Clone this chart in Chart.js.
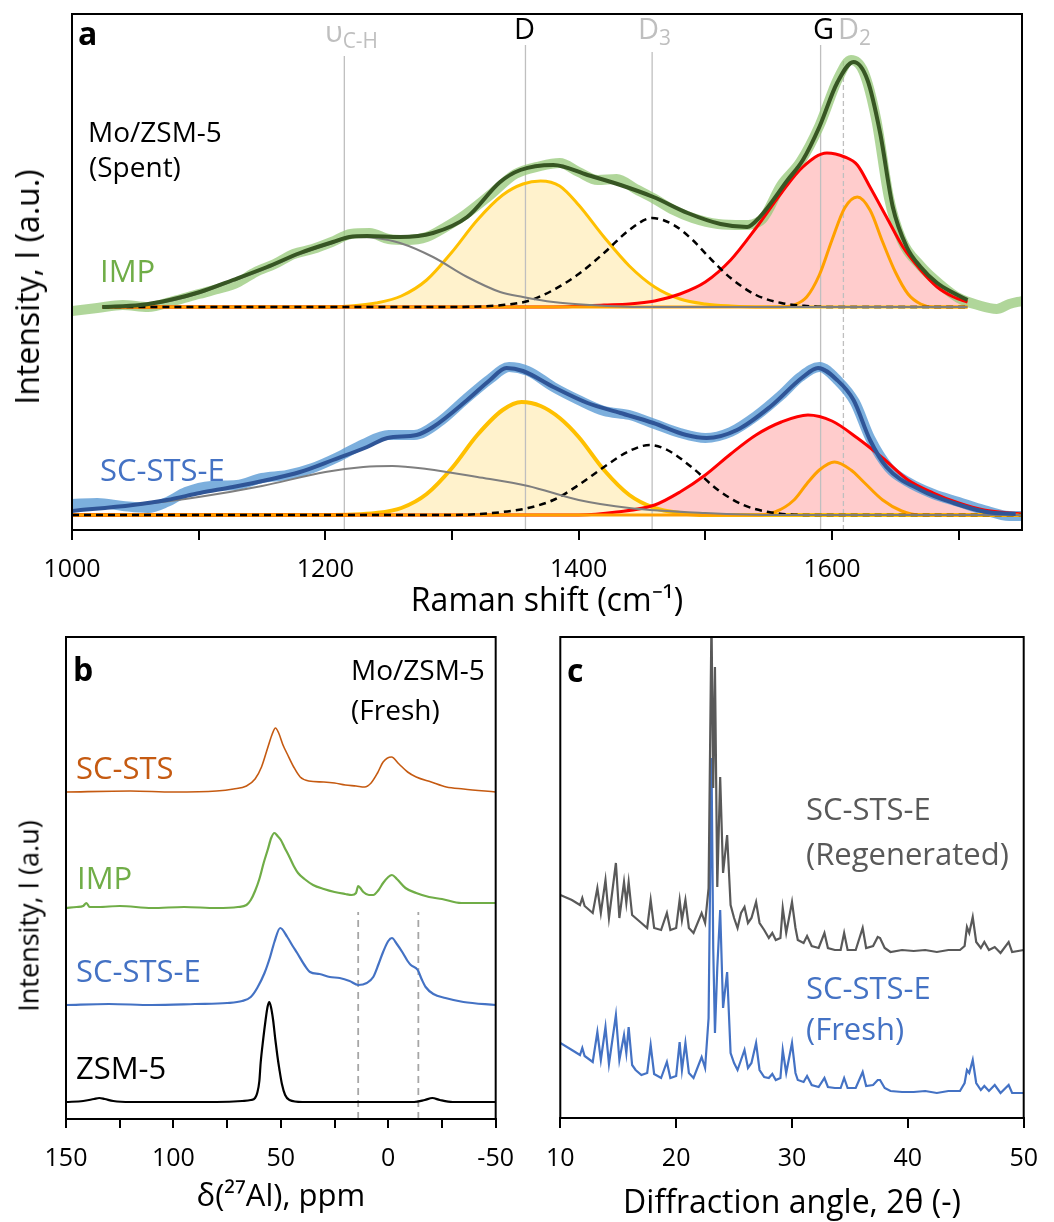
<!DOCTYPE html>
<html><head><meta charset="utf-8">
<script src="https://cdn.jsdelivr.net/npm/chart.js@4.4.1/dist/chart.umd.min.js"></script>
<style>
html,body{margin:0;padding:0;background:#fff;}
#wrap{position:relative;width:1054px;height:1222px;overflow:hidden;font-family:"Open Sans",sans-serif;background:#fff;}
canvas{position:absolute;}
.lab{position:absolute;white-space:nowrap;line-height:1;font-family:"Open Sans",sans-serif;}
.sub{font-size:72%;position:relative;top:0.28em;}
.ytit{position:absolute;white-space:nowrap;line-height:1;transform:translate(-50%,-50%) rotate(-90deg);color:#000;}
</style></head><body>
<div id="wrap">
<canvas id="ca" width="1054" height="620" style="left:0;top:0"></canvas>
<canvas id="cb" width="530" height="607" style="left:0;top:615px"></canvas>
<canvas id="cc" width="524" height="607" style="left:530px;top:615px"></canvas>

<div class="ytit" style="left:27px;top:287px;font-size:32px">Intensity, I (a.u.)</div>
<div class="ytit" style="left:28px;top:916px;font-size:27px">Intensity, I (a.u)</div>

<div class="lab" style="left:78px;top:17px;font-size:32px;font-weight:bold">a</div>
<div class="lab" style="left:88px;top:117px;font-size:28px">Mo/ZSM-5</div>
<div class="lab" style="left:89px;top:152px;font-size:28px">(Spent)</div>
<div class="lab" style="left:100px;top:255px;font-size:31px;color:#70ad47">IMP</div>
<div class="lab" style="left:100px;top:454px;font-size:31px;color:#4472c4">SC-STS-E</div>
<div class="lab" style="left:325px;top:16px;font-size:29px;color:#bfbfbf">υ<span class="sub">C-H</span></div>
<div class="lab" style="left:514px;top:13px;font-size:29px;color:#000">D</div>
<div class="lab" style="left:638px;top:13px;font-size:29px;color:#bfbfbf">D<span class="sub">3</span></div>
<div class="lab" style="left:813px;top:13px;font-size:29px;color:#000">G</div>
<div class="lab" style="left:838px;top:13px;font-size:29px;color:#bfbfbf">D<span class="sub">2</span></div>

<div class="lab" style="left:73px;top:653px;font-size:32px;font-weight:bold">b</div>
<div class="lab" style="left:351px;top:655px;font-size:28px">Mo/ZSM-5</div>
<div class="lab" style="left:351px;top:695px;font-size:28px">(Fresh)</div>
<div class="lab" style="left:76px;top:752px;font-size:31px;color:#c55a11">SC-STS</div>
<div class="lab" style="left:77px;top:862px;font-size:31px;color:#70ad47">IMP</div>
<div class="lab" style="left:76px;top:955px;font-size:31px;color:#4472c4">SC-STS-E</div>
<div class="lab" style="left:76px;top:1052px;font-size:31px;color:#000">ZSM-5</div>

<div class="lab" style="left:567px;top:654px;font-size:32px;font-weight:bold">c</div>
<div class="lab" style="left:806px;top:793px;font-size:31px;color:#595959">SC-STS-E</div>
<div class="lab" style="left:806px;top:838px;font-size:31px;color:#595959">(Regenerated)</div>
<div class="lab" style="left:806px;top:972px;font-size:31px;color:#4472c4">SC-STS-E</div>
<div class="lab" style="left:806px;top:1013px;font-size:31px;color:#4472c4">(Fresh)</div>
</div>
<script>
// ---------- Panel a: Raman (cm-1 vs intensity, a.u.) ----------
const impTotX = [1024,1054,1077,1101,1127,1154,1180,1206,1219,1233,1259,1285,1312,1338,1354,1380,1407,1433,1459,1486,1512,1533,1543,1565,1577,1590,1604,1617,1628,1638,1648,1659,1670,1683,1696,1707];
const impTotY = [223,225,230,238,250,263,277,288,293,294,293,297,313,348,360,365,355,345,333,317,306,303,313,350,370,403,447,468,450,397,323,283,263,247,237,230];
const impRawX = [1000,1020,1040,1060,1080,1100,1115,1130,1145,1160,1175,1190,1205,1220,1235,1250,1265,1280,1295,1310,1330,1350,1370,1385,1400,1415,1430,1445,1460,1475,1490,1510,1530,1545,1560,1575,1590,1605,1615,1625,1635,1645,1655,1670,1685,1700,1715,1730,1740,1750];
const impRawY = [219,222,225,223,229,236,241,247,258,266,276,281,288,296,297,291,290,293,303,315,335,356,364,367,358,350,351,341,331,320,312,306,305,311,345,368,404,452,470,458,410,332,290,264,246,232,225,221,226,229];
const impUX = [1024,1054,1077,1101,1127,1154,1180,1206,1223,1240,1259,1285,1312,1338,1356,1380,1410,1450,1707];
const impUY = [223,225,229,237,249,262,276,287,293,292,287,273,253,238,233,228,225,223,223];
const impDX = [1024,1200,1220,1240,1260,1280,1300,1320,1340,1356,1370,1385,1400,1420,1440,1460,1480,1500,1520,1545,1707];
const impDY = [223,223,224,227,234,250,278,310,335,346,349,344,325,293,264,243,231,226,224,223,223];
const impD3X = [1024,1300,1340,1360,1380,1400,1420,1440,1458,1475,1490,1505,1520,1540,1560,1580,1600,1707];
const impD3Y = [223,223,225,229,240,256,277,300,312,305,290,270,252,235,227,224,223,223];
const impGX = [1024,1380,1420,1440,1460,1480,1500,1520,1540,1560,1577,1596,1610,1620,1630,1643,1656,1670,1683,1696,1707];
const impGY = [223,223,225,226,229,236,248,270,302,337,363,377,373,365,343,313,283,260,243,233,228];
const impD2X = [1024,1560,1570,1580,1590,1600,1610,1620,1630,1640,1650,1660,1670,1680,1707];
const impD2Y = [223,223,225,233,255,290,322,333,320,288,258,236,226,223,223];
const impBase = 223;

const scTotX = [1000,1048,1075,1101,1127,1154,1180,1206,1233,1249,1272,1285,1312,1330,1343,1356,1380,1407,1433,1459,1485,1501,1525,1551,1577,1589,1604,1617,1630,1643,1670,1696,1722,1745];
const scTotY = [19,25,30,37,43,50,58,70,83,92,95,103,130,150,162,159,143,127,117,107,95,92,100,123,153,162,150,130,90,63,40,27,18,16];
const scRawX = [1000,1020,1040,1060,1075,1090,1110,1130,1150,1170,1190,1210,1230,1250,1270,1290,1310,1330,1345,1360,1380,1400,1420,1440,1460,1480,1500,1520,1540,1560,1575,1590,1605,1618,1630,1645,1660,1680,1700,1720,1740,1750];
const scRawY = [26,27,24,22,28,38,44,45,52,55,62,73,86,95,95,108,130,151,163,159,143,130,119,115,106,97,92,98,114,135,153,163,149,128,92,62,48,36,28,20,14,14];
const scUX = [1000,1050,1100,1150,1200,1230,1253,1280,1320,1360,1400,1440,1500,1560,1750];
const scUY = [19,25,33,44,58,63,64,61,53,44,30,22,17,15,15];
const scDX = [1000,1200,1240,1260,1280,1300,1320,1340,1355,1370,1385,1400,1420,1440,1460,1480,1500,1750];
const scDY = [15,15,17,22,36,62,95,120,128,124,112,93,60,35,22,17,15,15];
const scD3X = [1000,1300,1340,1360,1380,1400,1420,1440,1456,1470,1490,1510,1530,1550,1580,1750];
const scD3Y = [15,15,18,22,30,45,63,79,85,80,62,40,25,18,15,15];
const scGX = [1000,1400,1430,1460,1480,1500,1520,1540,1560,1581,1600,1620,1640,1660,1680,1700,1720,1750];
const scGY = [15,15,18,25,38,55,76,95,108,115,109,92,72,50,37,27,20,16];
const scD2X = [1000,1540,1555,1570,1580,1590,1602,1615,1625,1640,1655,1670,1750];
const scD2Y = [15,15,18,30,46,60,68,60,48,30,19,15,15];
const scBase = 15;

const bandPos = [1215,1358,1458,1591,1609];   // υC-H, D, D3, G, D2
const bandTop = [474,485,478,485,470];

// ---------- Panel b: 27Al NMR ----------
const stsX = [150,120,100,80,72,66,62,59,56,54,52.5,51,49,47,44,41,37,30,25,20,15,11,8,5,2.4,-1.5,-5,-9,-13,-20,-27,-35,-50];
const stsY = [327,328,327,328,330,333,340,352,372,385,391,386,374,365,352,342,338,337,336,334,333,332,336,346,357,362,355,347,342,337,332,330,327];
const nmrImpX = [150,145,142,140.5,139,135,125,110,95,80,70,66,64,62,60,58,56,54.5,53,51.5,50,48.4,46,44,42,39,35,30,25,20,17,15,14,13,11.6,9,7,4.5,2.4,0,-1.7,-4,-8,-13,-19,-25,-34,-42,-50];
const nmrImpY = [211,212,213,216,212,212,213,211,212,211,212,214,219,228,240,256,270,281,286,283,279,272,262,253,246,240,234,230,227,225,224,226,233,231,227,224,224,229,236,242,244,240,231,226,222,220,216,216,216];
const stseX = [150,130,110,90,75,68,64,61,57.6,55,53,50.3,47,44.5,42.4,39,36.4,32,27.2,22.6,18,14,10,7,4.5,2.4,0,-1.7,-4,-6.8,-9,-10.5,-13.7,-15.5,-17.4,-21,-26.6,-35,-50];
const stseY = [114,115,114,115,116,118,122,131,146,162,177,191,182,173,166,154,147,145,142,141,138,134,136,142,155,167,178,181,175,166,158,154,149,140,132,125,121,117,114];
const zsmX = [150,142,137,134.5,132,128,120,100,80,68,64,62,61,60,59.4,58.2,57.1,56.2,55.4,54.6,53.6,52.6,51.6,50.7,49.5,48,46,40,20,0,-12,-17,-20.5,-24,-30,-40,-50];
const zsmY = [17,18,20,21,20,18,17,17,17,18,19,21,26,38,56,80,99,112,117,112,99,80,63,50,35,24,19,17,17,17,17,19,21,19,17,17,17];
const nmrMarks = [14,-14];
const nmrMarkTop = 207;

// ---------- Panel c: XRD ----------
const xrdAngle = [10.0,11.0,11.7,11.9,12.1,12.8,13.2,13.5,13.9,14.2,14.8,15.1,15.5,15.7,15.9,16.2,16.5,17.0,17.5,17.8,18.1,18.7,19.2,19.5,20.0,20.3,20.5,20.8,21.1,21.5,22.2,22.5,22.8,23.05,23.2,23.35,23.55,23.8,24.05,24.4,24.7,25.0,25.3,25.6,25.9,26.2,26.5,26.9,27.2,27.6,28.0,28.3,28.6,29.0,29.2,29.5,30.0,30.3,30.5,31.0,31.3,31.7,32.3,32.8,33.1,33.7,34.2,34.5,34.8,35.5,36.1,36.4,37.0,37.4,37.6,38.0,38.5,39.5,40.5,41.5,42.5,43.5,44.5,44.9,45.1,45.3,45.6,45.9,46.3,46.6,47.0,47.5,48.0,48.7,49.0,50.0];
const xrdRegen = [223,218,213,220,212,205,230,205,238,200,255,200,236,215,236,203,200,195,190,218,190,188,205,188,190,218,198,218,190,185,205,195,230,500,330,451,231,341,245,283,213,200,190,205,211,195,200,216,195,188,180,185,178,180,210,185,216,190,178,175,182,172,170,185,170,168,168,185,168,168,190,170,172,181,180,170,166,168,167,168,166,168,168,172,191,185,201,176,170,176,168,171,165,176,166,168];
const xrdFresh = [75,68,63,70,62,56,86,58,91,54,103,58,83,65,91,53,48,43,45,73,44,40,56,40,42,76,48,75,45,40,61,50,100,360,170,85,150,208,110,146,65,55,48,58,68,50,55,75,48,41,40,44,38,40,68,45,75,45,38,36,42,33,31,40,31,30,30,40,30,30,46,32,33,38,38,30,27,26,26,27,25,27,27,35,48,45,58,35,28,32,27,33,25,33,25,25];

// ---------- helpers ----------
const FONT = 'Open Sans';
const pts = (xs, ys) => xs.map((x, i) => ({x: x, y: ys[i]}));
function line(xs, ys, color, width, extra) {
  return Object.assign({data: pts(xs, ys), borderColor: color, borderWidth: width, pointRadius: 0,
    fill: false, cubicInterpolationMode: 'monotone', order: 1}, extra || {});
}
function fillArea(xs, ys, color, base) {
  return {data: pts(xs, ys), borderColor: 'rgba(0,0,0,0)', borderWidth: 0, pointRadius: 0,
    backgroundColor: color, fill: {value: base}, cubicInterpolationMode: 'monotone', order: 5};
}
const framePlugin = {id: 'frame', afterDatasetsDraw(chart) {
  const a = chart.chartArea, ctx = chart.ctx;
  ctx.save(); ctx.strokeStyle = '#000'; ctx.lineWidth = 2;
  ctx.strokeRect(a.left, a.top, a.right - a.left, a.bottom - a.top); ctx.restore();
}};
function xAxis(cfg) {
  return {type: 'linear', min: cfg.min, max: cfg.max, reverse: !!cfg.reverse,
    ticks: {stepSize: cfg.step, includeBounds: false, autoSkip: false, maxRotation: 0, padding: cfg.pad,
      color: '#000', font: {family: FONT, size: 25}, callback: cfg.cb},
    grid: {display: true, drawOnChartArea: false, drawTicks: true, tickLength: cfg.tl, color: '#000', lineWidth: 2},
    border: {display: true, color: '#000', width: 2},
    title: {display: true, text: cfg.title, color: '#000', font: {family: FONT, size: cfg.tsize, lineHeight: 1},
      padding: {top: 0, bottom: cfg.tpad}},
    afterFit: (s) => { s.height = cfg.h; }};
}
function baseOpts(pad, xs, ymax) {
  return {responsive: false, animation: false, events: [],
    layout: {padding: pad},
    plugins: {legend: {display: false}, tooltip: {enabled: false}},
    scales: {x: xs, y: {display: false, min: 0, max: ymax}}};
}

// ---------- chart a ----------
const dsA = [
  line(impTotX, impTotY, '#375623', 4, {order: 0}),
  line(scTotX, scTotY, '#2f5597', 4, {order: 0}),
  line(impUX, impUY, '#7f7f7f', 2),
  line(impD3X, impD3Y, '#000000', 2.5, {borderDash: [7, 5]}),
  line(impD2X, impD2Y, '#ffa000', 3),
  line(impGX, impGY, '#ff0000', 3),
  line(impDX, impDY, '#ffc000', 3),
  line(scUX, scUY, '#7f7f7f', 2),
  line(scD3X, scD3Y, '#000000', 2.5, {borderDash: [7, 5]}),
  line(scD2X, scD2Y, '#ffa000', 3),
  line(scGX, scGY, '#ff0000', 3),
  line(scDX, scDY, '#ffc000', 4),
  line(impRawX, impRawY, 'rgba(150,200,120,0.75)', 10, {order: 2}),
  line(scRawX, scRawY, 'rgba(91,155,213,0.8)', 10, {order: 2}),
  fillArea(impDX, impDY, '#fff2cc', impBase),
  fillArea(impGX, impGY, '#ffcccc', impBase),
  fillArea(scDX, scDY, '#fff2cc', scBase),
  fillArea(scGX, scGY, '#ffcccc', scBase)
];
bandPos.forEach((b, i) => {
  dsA.push({data: [{x: b, y: 0}, {x: b, y: bandTop[i]}], borderColor: '#bfbfbf', borderWidth: 1.3,
    pointRadius: 0, fill: false, order: 3, borderDash: i === 4 ? [5, 3] : []});
});
new Chart(document.getElementById('ca'), {type: 'line', data: {datasets: dsA},
  options: baseOpts({left: 72, top: 14, right: 32, bottom: 0},
    xAxis({min: 1000, max: 1750, step: 100, pad: 15, tl: 10, h: 90, tsize: 32, tpad: 2,
      title: 'Raman shift (cm⁻¹)', cb: (v) => (v % 200 === 0 ? String(v) : '')}), 516),
  plugins: [framePlugin]});

// ---------- chart b ----------
const dsB = [
  line(stsX, stsY, '#c55a11', 1.6),
  line(nmrImpX, nmrImpY, '#70ad47', 2.2),
  line(stseX, stseY, '#4472c4', 2.2),
  line(zsmX, zsmY, '#000000', 2.2)
];
nmrMarks.forEach((m) => {
  dsB.push({data: [{x: m, y: 0}, {x: m, y: nmrMarkTop}], borderColor: '#a6a6a6', borderWidth: 1.8,
    borderDash: [7, 5], pointRadius: 0, fill: false, order: 3});
});
new Chart(document.getElementById('cb'), {type: 'line', data: {datasets: dsB},
  options: baseOpts({left: 66, top: 22, right: 29, bottom: 0},
    xAxis({min: -50, max: 150, reverse: true, step: 25, pad: 16, tl: 9, h: 103, tsize: 31, tpad: 9,
      title: 'δ(²⁷Al), ppm', cb: (v) => (v % 50 === 0 ? String(v) : '')}), 482),
  plugins: [framePlugin]});

// ---------- chart c ----------
const dsC = [
  {data: pts(xrdAngle, xrdRegen), borderColor: '#595959', borderWidth: 2.2, pointRadius: 0, fill: false, tension: 0, order: 0},
  {data: pts(xrdAngle, xrdFresh), borderColor: '#4472c4', borderWidth: 2.2, pointRadius: 0, fill: false, tension: 0, order: 1}
];
new Chart(document.getElementById('cc'), {type: 'line', data: {datasets: dsC},
  options: baseOpts({left: 27, top: 22, right: 18, bottom: 0},
    xAxis({min: 10, max: 50, step: 10, pad: 16, tl: 10, h: 104, tsize: 32, tpad: 2,
      title: 'Diffraction angle, 2θ (-)', cb: (v) => String(v)}), 481),
  plugins: [framePlugin]});
</script>
</body></html>
